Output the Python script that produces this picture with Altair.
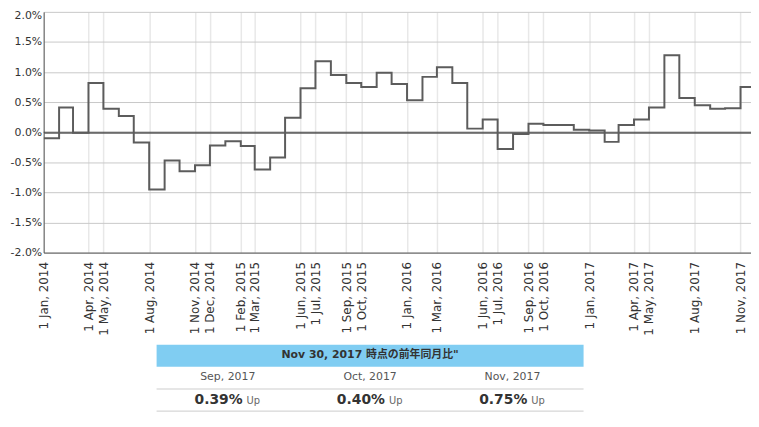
import altair as alt
import pandas as pd

# ---- data -------------------------------------------------------------
start_month = "2014-01-01"
yoy = [
    -0.10, 0.41, -0.01, 0.82, 0.39, 0.27, -0.17, -0.95, -0.47, -0.65, -0.55, -0.22,   # 2014
    -0.15, -0.23, -0.62, -0.42, 0.24, 0.73, 1.18, 0.95, 0.82, 0.75, 0.99, 0.80,      # 2015
    0.53, 0.92, 1.08, 0.82, 0.06, 0.21, -0.28, -0.03, 0.14, 0.12, 0.12, 0.04,         # 2016
    0.03, -0.16, 0.12, 0.21, 0.41, 1.28, 0.57, 0.45, 0.39, 0.40, 0.75,                # 2017
]
tick_dates = [
    "2014-01-01", "2014-04-01", "2014-05-01", "2014-08-01", "2014-11-01", "2014-12-01",
    "2015-02-01", "2015-03-01", "2015-06-01", "2015-07-01", "2015-09-01", "2015-10-01",
    "2016-01-01", "2016-03-01", "2016-06-01", "2016-07-01", "2016-09-01", "2016-10-01",
    "2017-01-01", "2017-04-01", "2017-05-01", "2017-08-01", "2017-11-01",
]
y_ticks = [-2.0, -1.5, -1.0, -0.5, 0.0, 0.5, 1.0, 1.5, 2.0]

header_title = "Nov 30, 2017 時点の前年同月比\""
table_months = ["Sep, 2017", "Oct, 2017", "Nov, 2017"]
table_values = [0.39, 0.40, 0.75]
table_status = ["Up", "Up", "Up"]

# ---- tables -----------------------------------------------------------
dates = pd.date_range(start_month, periods=len(yoy), freq="MS")
# extra anchor at the end of the last month so its step is drawn
end_anchor = dates[-1] + pd.offsets.MonthBegin(1)
line_df = pd.DataFrame({
    "date": [d.strftime("%Y-%m-%d") for d in dates] + [end_anchor.strftime("%Y-%m-%d")],
    "value": yoy + [yoy[-1]],
})
zero_df = pd.DataFrame({"value": [0.0]})


def utc_dt(s):
    t = pd.Timestamp(s)
    return alt.DateTime(year=t.year, month=t.month, date=t.day, utc=True)


tick_values = [utc_dt(s) for s in tick_dates]

FONT = "DejaVu Sans"
CJK = "DejaVu Sans, Noto Sans CJK JP"

x_scale = alt.Scale(type="utc", domain=[utc_dt("2014-01-01"), utc_dt("2017-11-22")], nice=False)
y_scale = alt.Scale(domain=[-2, 2], nice=False, zero=False)

y_axis = alt.Axis(
    values=y_ticks,
    labelExpr="(datum.value < 0 ? '-' : '') + format(abs(datum.value), '.1f') + '%'",
    labelFontSize=11, labelColor="#333333", labelFont=FONT,
    labelPadding=2, ticks=False, domainColor="#555555", domainWidth=1,
    grid=True, gridWidth=1, title=None,
    gridColor={"condition": {"test": "datum.value == 0", "value": "#555555"},
               "value": "#c8c8c8"},
    labelOverlap=False, labelFlush=False,
    labelBaseline={"condition": {"test": "datum.value >= 2", "value": "top"},
                   "value": "middle"},
    labelOffset={"condition": {"test": "datum.value >= 2", "value": -2},
                 "value": 0},
)

line = alt.Chart(line_df).mark_line(
    interpolate="step-after", color="#5c5c5c", strokeWidth=2, clip=True
).encode(
    x=alt.X("date:T", scale=x_scale, axis=alt.Axis(
        values=tick_values,
        labelExpr="utcFormat(datum.value, '%-d %b, %Y')",
        labelAngle=270, labelFontSize=12, labelColor="#333333", labelFont=FONT,
        labelPadding=9, ticks=False, domainColor="#555555", domainWidth=1,
        grid=True, gridColor="#e8e8e8", gridWidth=1.5, title=None,
        labelOverlap=False, labelFlush=False,
    )),
    y=alt.Y("value:Q", scale=y_scale, axis=y_axis),
)

zero = alt.Chart(zero_df).mark_rule(color="#4a4a4a", strokeWidth=1.2).encode(
    y=alt.Y("value:Q", scale=y_scale, axis=y_axis)
)

main = alt.layer(zero, line)

# ---- summary table below the chart -----------------------------------
tx = alt.Scale(domain=[0, 3], range=[114, 545], nice=False, zero=False)
ty = alt.Scale(domain=[0, 3], range=[336, 403], nice=False, zero=False)

header_df = pd.DataFrame({"c0": [0], "c1": [3], "r0": [0], "r1": [1], "r": [0.5],
                          "c": [1.5], "title": [header_title]})
rules_df = pd.DataFrame({"c0": [0, 0], "c1": [3, 3], "r": [2, 3]})
cells_df = pd.DataFrame({
    "c": [0.5, 1.5, 2.5],
    "r1": [1.5] * 3,
    "r2": [2.5] * 3,
    "month": table_months,
    "val": [f"{v:.2f}%" for v in table_values],
    "status": table_status,
})

header_rect = alt.Chart(header_df).mark_rect(color="#80cdf2").encode(
    x=alt.X("c0:Q", scale=tx, axis=None), x2="c1:Q",
    y=alt.Y("r0:Q", scale=ty, axis=None), y2="r1:Q",
)
header_text = alt.Chart(header_df).mark_text(
    font=CJK, fontSize=11, fontWeight="bold", color="#333333", baseline="middle", dy=-1
).encode(
    x=alt.X("c:Q", scale=tx, axis=None), y=alt.Y("r:Q", scale=ty, axis=None), text="title:N"
)
sep_rules = alt.Chart(rules_df).mark_rule(color="#cccccc", strokeWidth=1).encode(
    x=alt.X("c0:Q", scale=tx, axis=None), x2="c1:Q",
    y=alt.Y("r:Q", scale=ty, axis=None),
)
month_text = alt.Chart(cells_df).mark_text(
    font=FONT, fontSize=11, color="#555555", baseline="middle", dy=-1
).encode(
    x=alt.X("c:Q", scale=tx, axis=None), y=alt.Y("r1:Q", scale=ty, axis=None), text="month:N"
)
value_text = alt.Chart(cells_df).mark_text(
    font=FONT, fontSize=14, fontWeight="bold", color="#333333",
    align="right", baseline="middle", dx=15
).encode(
    x=alt.X("c:Q", scale=tx, axis=None), y=alt.Y("r2:Q", scale=ty, axis=None), text="val:N"
)
status_text = alt.Chart(cells_df).mark_text(
    font=FONT, fontSize=10, color="#666666",
    align="left", baseline="middle", dx=19, dy=1
).encode(
    x=alt.X("c:Q", scale=tx, axis=None), y=alt.Y("r2:Q", scale=ty, axis=None), text="status:N"
)

table = alt.layer(header_rect, sep_rules, header_text, month_text, value_text, status_text)

chart = alt.layer(main, table).resolve_scale(
    x="independent", y="independent"
).properties(
    width=714, height=243,
    autosize=alt.AutoSizeParams(type="none"),
    padding={"left": 36, "top": 2, "right": 0, "bottom": 161},
    background="white",
).configure_view(strokeWidth=0)

chart.save("out.html", embed_options={"renderer": "svg", "actions": False})
